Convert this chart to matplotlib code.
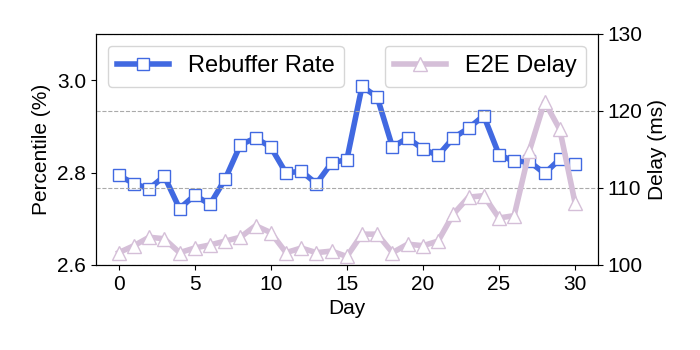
import numpy as np
import matplotlib.pyplot as plt

plt.rcParams['font.family'] = ['Liberation Sans', 'DejaVu Sans']
plt.rcParams['font.size'] = 15

# Data
days = list(range(31))
rebuffer = [2.794, 2.776, 2.765, 2.792, 2.722, 2.751, 2.731, 2.786, 2.860, 2.875,
            2.855, 2.799, 2.803, 2.776, 2.821, 2.828, 2.987, 2.963, 2.855, 2.875,
            2.851, 2.837, 2.875, 2.896, 2.923, 2.839, 2.824, 2.824, 2.798, 2.829,
            2.819]
delay = [101.6, 102.5, 103.6, 103.4, 101.6, 102.2, 102.6, 103.1, 103.6, 105.1,
         104.2, 101.6, 102.2, 101.6, 101.8, 101.1, 104.0, 104.0, 101.6, 102.7,
         102.5, 103.1, 106.6, 108.8, 109.0, 106.1, 106.4, 114.8, 121.2, 117.6,
         108.1]

blue = '#4169e1'
purple = '#d5bfd8'

fig = plt.figure(figsize=(7, 3.5), dpi=100)
ax = fig.add_axes([0.137, 0.243, 0.717, 0.66])
ax2 = ax.twinx()

ax.plot(days, rebuffer, color=blue, lw=4, marker='s', ms=8,
        mfc='white', mec=blue, mew=1, label='Rebuffer Rate')
ax2.plot(days, delay, color=purple, lw=4, marker='^', ms=10,
         mfc='white', mec=purple, mew=1, label='E2E Delay')

ax.set_ylim(2.6, 3.1)
ax.set_yticks([2.6, 2.8, 3.0])
ax.set_xlim(-1.5, 31.5)
ax.set_xticks(range(0, 31, 5))
ax2.set_ylim(100, 130)
ax2.set_yticks([100, 110, 120, 130])
ax2.grid(axis='y', ls='--', color='#aaaaaa', lw=0.8)

ax.set_xlabel('Day')
ax.set_ylabel('Percentile (%)')
ax2.set_ylabel('Delay (ms)')

ax.legend(loc='upper left', handlelength=2.2, fontsize=17)
ax2.legend(loc='upper right', handlelength=2.2, fontsize=17)

fig.savefig('out.png')
